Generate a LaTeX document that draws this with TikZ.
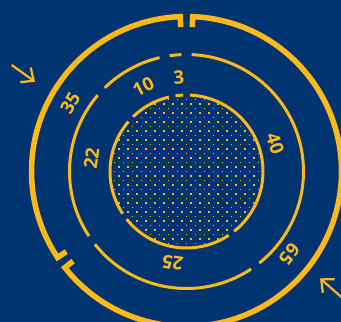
\documentclass[tikz,border=0pt]{standalone}
\usepackage{fontspec}
\setmainfont{Open Sans}
\usetikzlibrary{arrows.meta}
\definecolor{bg}{RGB}{0,52,112}
\definecolor{gold}{RGB}{253,185,25}
\begin{document}
\begin{tikzpicture}[x=1pt,y=1pt,
  ring/.style={draw=gold,line cap=butt},
  outerring/.style={ring,line width=5.5pt,line join=miter},
  thinring/.style={ring,line width=3pt},
  lbl/.style={text=gold,font=\fontsize{18.5}{18.5}\selectfont\bfseries,inner sep=0pt},
  dot/.style={fill=gold},
  arr/.style={draw=gold,line width=2.2pt,-{Straight Barb[length=10pt,width=18pt]}}]
\fill[bg] (0,0) rectangle (341,322);
\useasboundingbox (0,0) rectangle (341,322);
\coordinate (C) at (186.5,150.5);
\begin{scope}[shift={(C)}]
  % dotted core
  \begin{scope}
    \clip (0,0) circle[radius=75pt];
    \foreach \j in {-18,-16,...,18}{\foreach \i in {-9,...,9}{
      \fill[dot] ({\i*9-0.9},{\j*4.5-0.9}) rectangle ++(1.8,1.8);}}
    \foreach \j in {-17,-15,...,17}{\foreach \i in {-9,...,9}{
      \fill[dot] ({\i*9+4.5-0.9},{\j*4.5-0.9}) rectangle ++(1.8,1.8);}}
  \end{scope}
  % outer ring
  \draw[outerring] (92.3:144.5pt) -- (92.3:155pt) arc[start angle=92.3,end angle=213.7,radius=155pt] -- (213.7:144.5pt);
  \draw[outerring] (218.3:144.5pt) -- (218.3:155pt) arc[start angle=218.3,end angle=447.7,radius=155pt] -- (447.7:144.5pt);
  % middle and inner rings
  \foreach \r in {117,76.5}{
    \draw[thinring] (92.5:\r pt) arc[start angle=92.5,end angle=98.3,radius=\r pt];
    \draw[thinring] (103.3:\r pt) arc[start angle=103.3,end angle=134.3,radius=\r pt];
    \draw[thinring] (139.3:\r pt) arc[start angle=139.3,end angle=213.5,radius=\r pt];
    \draw[thinring] (218.5:\r pt) arc[start angle=218.5,end angle=303.5,radius=\r pt];
    \draw[thinring] (308.5:\r pt) arc[start angle=308.5,end angle=447.5,radius=\r pt];
  }
  % labels
  \node[lbl,rotate=59.5] (l35) at (149.5:135pt) {35};
  \node[lbl,rotate=-128.8] (l65) at (-38.8:132pt) {65};
  \node[lbl,rotate=27] (l10) at (117:95pt) {10};
  \node[lbl,rotate=4.6] (l3) at (94.6:94.5pt) {3};
  \node[lbl,rotate=-72.5] (l40) at (17.5:93pt) {40};
  \node[lbl,rotate=171.4] (l25) at (261.4:92.5pt) {25};
  \node[lbl,rotate=82] (l22) at (172:96pt) {22};
\end{scope}
% arrows
\coordinate (a1s) at (11.7,257);
\coordinate (a1e) at (35,240.3);
\coordinate (a2s) at (343,23.5);
\coordinate (a2e) at (320,43.7);
\draw[arr] (a1s) -- (a1e);
\draw[arr] (a2s) -- (a2e);
\end{tikzpicture}
\end{document}
